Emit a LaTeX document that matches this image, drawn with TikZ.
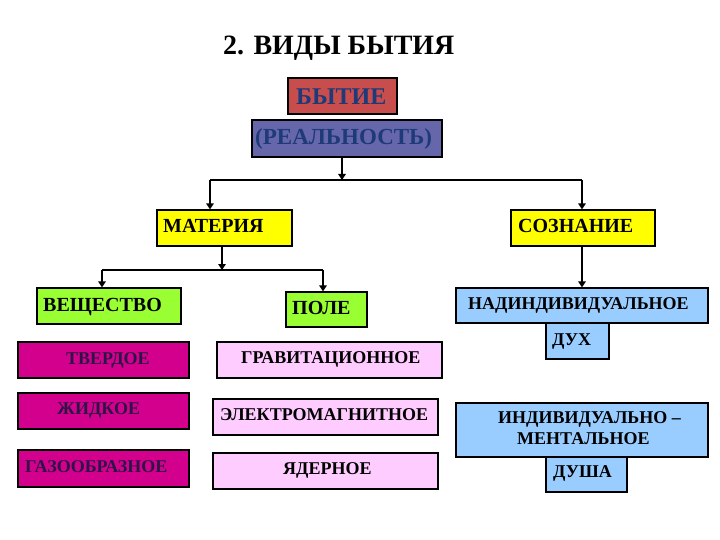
\documentclass[tikz,border=0pt]{standalone}
\usepackage{fontspec}
\setmainfont{Liberation Serif}
\usetikzlibrary{fit,arrows.meta}
\definecolor{cByt}{RGB}{200,78,78}
\definecolor{cReal}{RGB}{102,102,170}
\definecolor{cNavy}{RGB}{30,58,120}
\definecolor{cYel}{RGB}{255,255,0}
\definecolor{cGreen}{RGB}{153,255,51}
\definecolor{cMag}{RGB}{210,0,140}
\definecolor{cMagText}{RGB}{45,20,70}
\definecolor{cPink}{RGB}{255,204,255}
\definecolor{cBlue}{RGB}{153,204,255}
\tikzset{
  boxnode/.style={draw=black, line width=1.3pt, inner sep=0pt},
  txt/.style={anchor=base west, inner sep=0pt, font=\bfseries\fontsize{18}{20}\selectfont},
  bigtxt/.style={txt, font=\bfseries\fontsize{20}{22}\selectfont},
  conn/.style={line width=2.2pt, draw=black},
  arr/.style={conn, -{Triangle[width=7.5pt,length=6pt]}},
}
\begin{document}
\begin{tikzpicture}[x=1pt,y=-1pt]
\useasboundingbox (0,0) rectangle (720,540);
% title
\node[anchor=base west, inner sep=0pt, font=\bfseries\fontsize{28}{30}\selectfont] (title) at (223,55) {2. ВИДЫ БЫТИЯ};
% boxes
\node[boxnode, fill=cByt, fit={(288,78) (397,114)}] (byt) {};
\node[boxnode, fill=cReal, fit={(252,120) (442,157)}] (real) {};
\node[boxnode, fill=cYel, fit={(157,210) (292,246)}] (mat) {};
\node[boxnode, fill=cYel, fit={(511,210) (655,246)}] (soz) {};
\node[boxnode, fill=cGreen, fit={(37,288) (181,324)}] (vesh) {};
\node[boxnode, fill=cGreen, fit={(286,292) (367,327)}] (pole) {};
\node[boxnode, fill=cMag, fit={(18,342) (189,378)}] (tv) {};
\node[boxnode, fill=cMag, fit={(18,393) (189,429)}] (zh) {};
\node[boxnode, fill=cMag, fit={(18,450) (189,487)}] (gaz) {};
\node[boxnode, fill=cPink, fit={(217,342) (442,378)}] (grav) {};
\node[boxnode, fill=cPink, fit={(213,399) (438,435)}] (el) {};
\node[boxnode, fill=cPink, fit={(213,453) (438,489)}] (yad) {};
\node[boxnode, fill=cBlue, fit={(456,288) (708,323)}] (nad) {};
\node[boxnode, fill=cBlue, fit={(546,323) (609,359)}] (duh) {};
\node[boxnode, fill=cBlue, fit={(456,403) (708,457)}] (ind) {};
\node[boxnode, fill=cBlue, fit={(546,457) (627,492)}] (dusha) {};
% texts
\node[txt, text=cNavy, font=\bfseries\fontsize{24}{26}\selectfont] (tbyt) at (296,105) {БЫТИЕ};
\node[txt, text=cNavy, font=\bfseries\fontsize{23}{25}\selectfont] (treal) at (255,145) {(РЕАЛЬНОСТЬ)};
\node[bigtxt] (tmat) at (163,233) {МАТЕРИЯ};
\node[bigtxt] (tsoz) at (518,233) {СОЗНАНИЕ};
\node[bigtxt] (tvesh) at (43,311) {ВЕЩЕСТВО};
\node[bigtxt] (tpole) at (292,314) {ПОЛЕ};
\node[txt, text=cMagText] (ttv) at (66,364) {ТВЕРДОЕ};
\node[txt, text=cMagText] (tzh) at (57,414) {ЖИДКОЕ};
\node[txt, text=cMagText] (tgaz) at (25,472) {ГАЗООБРАЗНОЕ};
\node[txt] (tgrav) at (241,363) {ГРАВИТАЦИОННОЕ};
\node[txt] (tel) at (220,420) {ЭЛЕКТРОМАГНИТНОЕ};
\node[txt] (tyad) at (283,474) {ЯДЕРНОЕ};
\node[txt] (tnad) at (468,309) {НАДИНДИВИДУАЛЬНОЕ};
\node[txt] (tduh) at (552,345) {ДУХ};
\node[txt] (tind1) at (498,423) {ИНДИВИДУАЛЬНО –};
\node[txt] (tind2) at (517,444) {МЕНТАЛЬНОЕ};
\node[txt] (tdusha) at (553,477) {ДУША};
% connectors
\coordinate (j0) at (342,180);
\coordinate (jl) at (210,180);
\coordinate (jr) at (582,180);
\draw[arr] (real.south -| j0) -- (j0);
\draw[conn] (jl) -- (jr);
\draw[arr] (jl) -- (jl |- mat.north);
\draw[arr] (jr) -- (jr |- soz.north);
\coordinate (k0) at (222,270);
\coordinate (kl) at (102,270);
\coordinate (kr) at (323,270);
\draw[arr] (mat.south -| k0) -- (k0);
\draw[conn] (kl) -- (kr);
\draw[arr] (kl) -- (kl |- vesh.north);
\draw[arr] (kr) -- (kr |- pole.north);
\draw[arr] (soz.south -| jr) -- (jr |- nad.north);
\end{tikzpicture}
\end{document}
